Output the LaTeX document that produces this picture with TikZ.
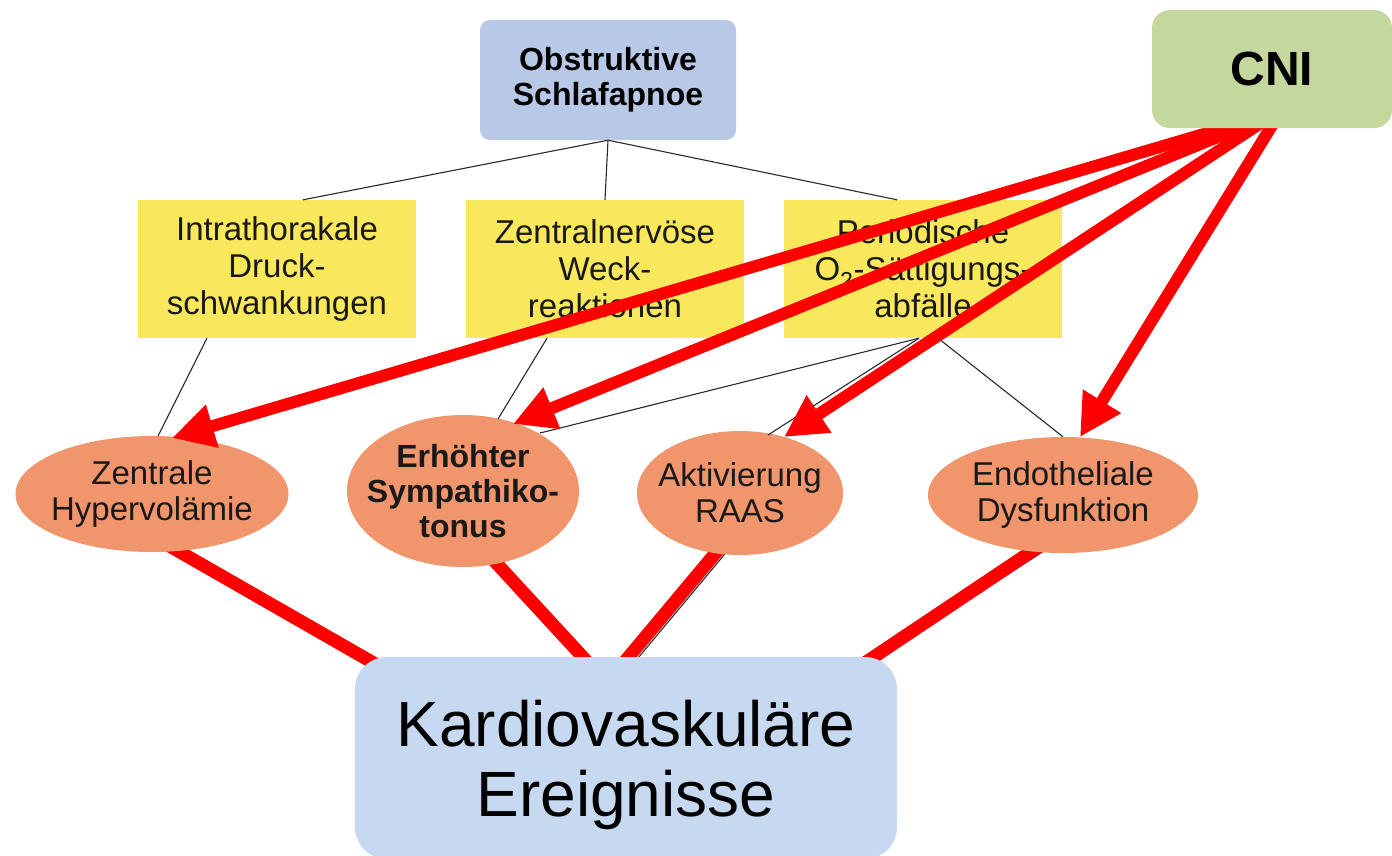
\documentclass[tikz,border=0pt]{standalone}
\usepackage{fontspec}
\setmainfont{Liberation Sans}
\usetikzlibrary{shapes.geometric,arrows.meta,calc}
\pgfdeclarelayer{bg}
\pgfdeclarelayer{fg}
\pgfsetlayers{bg,main,fg}
\definecolor{osablue}{RGB}{183,201,230}
\definecolor{cnigreen}{RGB}{196,215,156}
\definecolor{yellowc}{RGB}{250,232,92}
\definecolor{orangec}{RGB}{241,150,108}
\definecolor{kblue}{RGB}{198,217,240}
\definecolor{thinc}{RGB}{40,40,40}
\tikzset{
  osabox/.style={rectangle, rounded corners=10pt, fill=osablue, minimum width=256pt, minimum height=120pt, inner sep=0pt, align=center, font=\bfseries\fontsize{32}{35}\selectfont},
  cnibox/.style={rectangle, rounded corners=18pt, fill=cnigreen, minimum width=240pt, minimum height=118pt, inner sep=0pt, font=\bfseries\fontsize{48}{52}\selectfont},
  ybox/.style={rectangle, fill=yellowc, minimum width=278pt, minimum height=138pt, inner sep=0pt, align=center, font=\fontsize{33}{37}\selectfont, text=black!90},
  ell/.style={ellipse, fill=orangec, inner xsep=-40pt, inner ysep=-20pt, align=center, font=\fontsize{33}{36}\selectfont, text=black!90},
  kbox/.style={rectangle, rounded corners=32pt, fill=kblue, minimum width=542pt, minimum height=202pt, inner sep=0pt, align=center, text depth=0pt, font=\fontsize{64}{70}\selectfont},
  thinline/.style={draw=thinc, line width=1.1pt},
  redline/.style={draw=red, line width=13pt},
  redarrow/.style={draw=red, line width=12pt, -{Triangle[length=42pt,width=42pt]}},
}
\begin{document}
\begin{tikzpicture}[x=1pt,y=-1pt]
\useasboundingbox (0,0) rectangle (1392,855);

\node[osabox] (osa) at (608,80) {Obstruktive\\Schlafapnoe};
\begin{pgfonlayer}{fg}
\node[cnibox] (cni) at (1272,69) {CNI};
\end{pgfonlayer}

\node[ybox] (y1) at (277,269) {Intrathorakale\\Druck-\\schwankungen};
\node[ybox] (y2) at (605,269) {Zentralnervöse\\Weck-\\reaktionen};
\node[ybox] (y3) at (923,269) {Periodische\\O\textsubscript{2}-Sättigungs-\\abfälle};

\node[ell, minimum width=273pt, minimum height=116pt] (zh) at (152,494) {Zentrale\\Hypervolämie};
\node[ell, minimum width=232pt, minimum height=152pt, font=\bfseries\fontsize{32}{35}\selectfont] (es) at (463,491) {Erhöhter\\Sympathiko-\\tonus};
\node[ell, minimum width=206pt, minimum height=124pt] (ar) at (740,493) {Aktivierung\\RAAS};
\node[ell, minimum width=270pt, minimum height=116pt] (ed) at (1063,495) {Endotheliale\\Dysfunktion};

\node[kbox] (kv) at (626,758) {Kardiovaskuläre\\Ereignisse};

% thin connectors
\draw[thinline] (osa.south) -- ($(y1.north)+(26,0)$);
\draw[thinline] (osa.south) -- (y2.north);
\draw[thinline] (osa.south) -- ($(y3.north)+(-26,0)$);
\draw[thinline] ($(y1.south)+(-70,0)$) -- ($(zh.center)+(6,-58)$);
\draw[thinline] ($(y2.south)+(-58,0)$) -- ($(es.center)+(35,-72)$);
\draw[thinline] ($(y3.south)+(-4,0)$) -- ($(es.center)+(77,-58)$);
\draw[thinline] ($(y3.south)+(-4,0)$) -- ($(ar.center)+(28,-58)$);
\draw[thinline] ($(y3.south)+(15,0)$) -- (ed.north);

% lines to the bottom box
\begin{pgfonlayer}{bg}
\draw[thinline] ($(ar.center)+(-6,50)$) -- ($(kv.north)+(8,6)$);
\draw[thinline] ($(ed.center)+(-10,50)$) -- ($(kv.north)+(246,6)$);
\draw[redline] ($(zh.center)+(14,50)$) -- ($(kv.north west)+(22,8)$);
\draw[redline] ($(es.center)+(24,62)$) -- ($(kv.north)+(-36,8)$);
\draw[redline] ($(ar.center)+(-16,50)$) -- ($(kv.north)+(-4,8)$);
\draw[redline] ($(ed.center)+(-16,46)$) -- ($(kv.north)+(236,8)$);
\end{pgfonlayer}

% CNI arrows
\draw[redarrow] ($(cni.south)+(-28,-6)$) -- ($(zh.center)+(20,-56)$);
\draw[redarrow] ($(cni.south)+(-18,-6)$) -- ($(es.center)+(50,-67)$);
\draw[redarrow] ($(cni.south)+(-10,-6)$) -- ($(ar.center)+(44,-56)$);
\draw[redarrow] ($(cni.south)+(2,-6)$) -- ($(ed.center)+(17,-58)$);
\end{tikzpicture}
\end{document}
